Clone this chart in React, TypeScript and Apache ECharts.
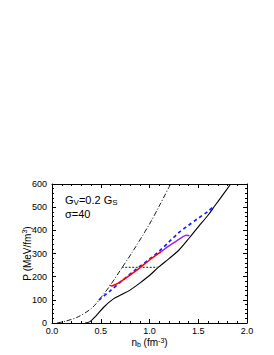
import React, { useEffect, useRef } from "react";
import * as echarts from "echarts";

// n_b (fm^-3), P (MeV/fm^3)
const dashDotCurve: [number, number][] = [
  [0.05, 0], [0.14, 8], [0.27, 27], [0.41, 65], [0.51, 114], [0.6, 164],
  [0.72, 240], [0.83, 310], [1.0, 427], [1.1, 505], [1.217, 600],
];
const solidCurve: [number, number][] = [
  [0.34, 0], [0.39, 6], [0.45, 30], [0.53, 68], [0.63, 104], [0.72, 124],
  [0.8, 142], [0.9, 172], [1.0, 205], [1.09, 240], [1.2, 278], [1.3, 314],
  [1.41, 368], [1.5, 415], [1.6, 465], [1.672, 507], [1.75, 552], [1.833, 600],
];
const blueDashed: [number, number][] = [
  [0.48, 99], [0.6, 140], [0.72, 183], [0.85, 228], [1.0, 275], [1.1, 310],
  [1.2, 350], [1.3, 390], [1.4, 422], [1.5, 452], [1.6, 482], [1.672, 507],
];
const redCurve: [number, number][] = [
  [0.59, 164], [0.61, 160], [0.65, 166], [0.7, 178], [0.8, 207], [0.9, 238],
  [1.0, 272], [1.12, 308],
];
const purpleCurve: [number, number][] = [
  [1.12, 308], [1.2, 333], [1.28, 355], [1.34, 372], [1.38, 379], [1.41, 377],
];
const greenDotted: [number, number][] = [
  [0.715, 240], [1.09, 240],
];

const xTicks = [0, 0.5, 1.0, 1.5, 2.0];
const yTicks = [0, 100, 200, 300, 400, 500, 600];

const FONT = "Liberation Sans, Arial, sans-serif";

export default function App() {
  const ref = useRef<HTMLDivElement>(null);
  useEffect(() => {
    if (!ref.current) return;
    const chart = echarts.init(ref.current, undefined, { renderer: "svg" });
    const rich = {
      sub: { fontSize: 7, lineHeight: 7, verticalAlign: "bottom", fontFamily: FONT, color: "#000" },
      sup: { fontSize: 7, lineHeight: 7, verticalAlign: "top", fontFamily: FONT, color: "#000" },
      n: { fontSize: 10, lineHeight: 13, fontFamily: FONT, color: "#000" },
    };
    const richX = {
      sub: { fontSize: 7, lineHeight: 6, verticalAlign: "bottom", fontFamily: FONT, color: "#000" },
      sup: { fontSize: 7, lineHeight: 6, verticalAlign: "top", fontFamily: FONT, color: "#000" },
      n: { fontSize: 10, lineHeight: 11, fontFamily: FONT, color: "#000" },
    };
    const richLegend = {
      sub: { fontSize: 8, lineHeight: 8, verticalAlign: "bottom", fontFamily: FONT, color: "#000" },
      n: { fontSize: 11, lineHeight: 14, fontFamily: FONT, color: "#000" },
      m: { fontSize: 11, lineHeight: 12, fontFamily: FONT, color: "#000" },
    };
    const axisCommon = {
      axisLine: { show: true, onZero: false, lineStyle: { color: "#000", width: 1 } },
      axisTick: { show: true, inside: true, length: 4, lineStyle: { color: "#000" } },
      minorTick: { show: true, splitNumber: 5, length: 2, lineStyle: { color: "#000" } },
      splitLine: { show: false },
      minorSplitLine: { show: false },
    };
    const option: any = {
      animation: false,
      backgroundColor: "#fff",
      grid: { left: 52, right: 27, top: 184, bottom: 32 },
      xAxis: [
        {
          type: "value", min: xTicks[0], max: xTicks[xTicks.length - 1], interval: 0.5,
          position: "bottom",
          ...axisCommon,
          axisLabel: {
            show: true, fontSize: 9, lineHeight: 10, color: "#000", fontFamily: FONT, margin: 3,
            formatter: (v: number) => v.toFixed(1),
          },
          name: "{n|n}{sub|b}{n| (fm}{sup|-3}{n|)}",
          nameLocation: "middle", nameGap: 14, nameMoveOverlap: false,
          nameTextStyle: { rich: richX },
        },
        {
          type: "value", min: xTicks[0], max: xTicks[xTicks.length - 1], interval: 0.5,
          position: "top",
          ...axisCommon,
          axisLabel: { show: false },
        },
      ],
      yAxis: [
        {
          type: "value", min: yTicks[0], max: yTicks[yTicks.length - 1], interval: 100,
          position: "left",
          ...axisCommon,
          axisLabel: { show: true, fontSize: 9, color: "#000", fontFamily: FONT, margin: 5 },
          name: "{n|P (MeV/fm}{sup|3}{n|)}",
          nameLocation: "middle", nameGap: 18, nameRotate: 90, nameMoveOverlap: false,
          nameTextStyle: { rich },
        },
        {
          type: "value", min: yTicks[0], max: yTicks[yTicks.length - 1], interval: 100,
          position: "right",
          ...axisCommon,
          axisLabel: { show: false },
        },
      ],
      series: [
        {
          type: "line", data: dashDotCurve, smooth: 0.3, showSymbol: false, symbol: "none",
          lineStyle: { color: "#000", width: 0.9, type: [5, 2, 1, 2] }, z: 2,
        },
        {
          type: "line", data: solidCurve, smooth: 0.3, showSymbol: false, symbol: "none",
          lineStyle: { color: "#000", width: 1.1 }, z: 2,
        },
        {
          type: "line", data: greenDotted, showSymbol: false, symbol: "none",
          lineStyle: { color: "#008000", width: 1.2, type: [2, 1.5] }, z: 3,
        },
        {
          type: "line", data: blueDashed, smooth: 0.3, showSymbol: false, symbol: "none",
          lineStyle: { color: "#1a1aff", width: 1.7, type: [3.5, 3] }, z: 4,
        },
        {
          type: "line", data: redCurve, smooth: 0.3, showSymbol: false, symbol: "none",
          lineStyle: { color: "#ff0000", width: 1.5 }, z: 5,
        },
        {
          type: "line", data: purpleCurve, smooth: 0.3, showSymbol: false, symbol: "none",
          lineStyle: { color: "#a020f0", width: 1.5 }, z: 5,
        },
      ],
      graphic: [
        {
          type: "text", left: 65, top: 194,
          style: {
            text: "{n|G}{sub|V}{n|=0.2 G}{sub|S}",
            rich: richLegend,
          },
        },
        {
          type: "text", left: 65, top: 208,
          style: {
            text: "{m|σ=40}",
            rich: richLegend,
          },
        },
      ],
    };
    chart.setOption(option);
    return () => chart.dispose();
  }, []);
  return (
    <div
      ref={ref}
      style={{ position: "fixed", left: 0, top: 0, width: 274, height: 355 }}
    />
  );
}
